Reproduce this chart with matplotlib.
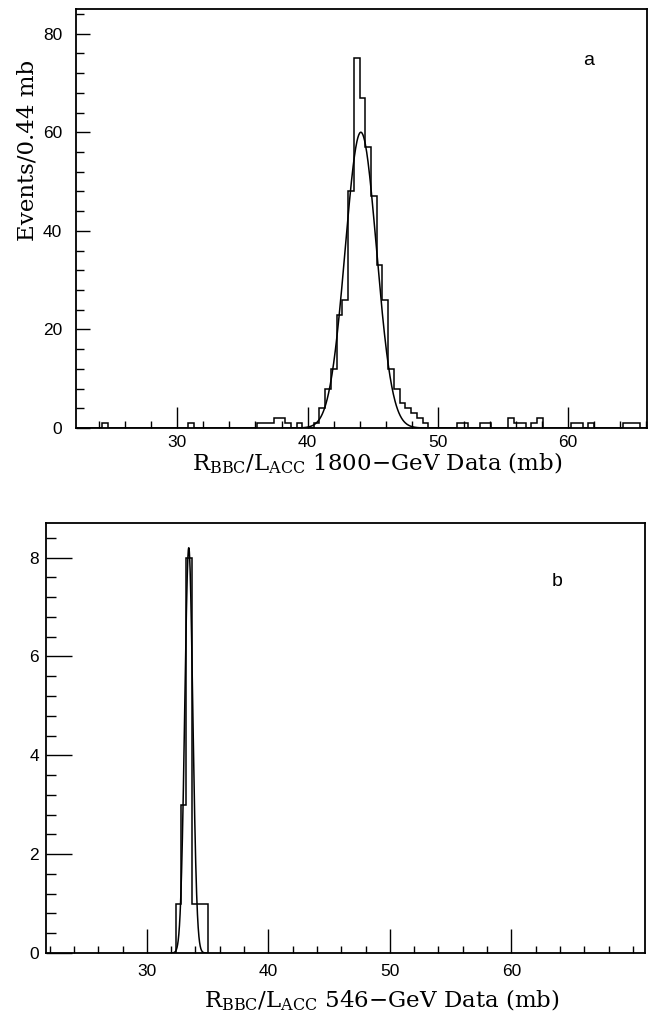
import matplotlib
matplotlib.use("Agg")
import matplotlib.pyplot as plt
import numpy as np
from matplotlib.ticker import MultipleLocator

plt.rcParams['mathtext.fontset'] = 'dejavuserif'

# histogram binning (mb)
BIN_START = 22.0
BIN_WIDTH = 0.44

# 1800-GeV data: events per 0.44 mb bin, bins from 22 mb upward
counts_1800 = [
    0, 0, 0, 0, 0, 1, 0, 0, 0, 0,
    0, 0, 0, 0, 0, 0, 0, 0, 0, 0,
    1, 0, 0, 0, 0, 0, 0, 0, 0, 0,
    0, 0, 1, 1, 1, 2, 2, 1, 0, 1,
    0, 0, 1, 4, 8, 12, 23, 26, 48, 75,
    67, 57, 47, 33, 26, 12, 8, 5, 4, 3,
    2, 1, 0, 0, 0, 0, 0, 1, 1, 0,
    0, 1, 1, 0, 0, 0, 2, 1, 1, 0,
    1, 2, 0, 0, 0, 0, 0, 1, 1, 0,
    1, 0, 0, 0, 0, 0, 1, 1, 1, 0,
]
# gaussian fit to the 1800-GeV peak
fit_1800_amp = 60.0
fit_1800_mean = 44.1
fit_1800_sigma = 1.2

# 546-GeV data
start_546 = 32.36
counts_546 = [1, 3, 8, 1, 1, 1]
fit_546_amp = 8.2
fit_546_mean = 33.45
fit_546_sigma = 0.33


def gauss(x, amp, mean, sigma):
    return amp * np.exp(-0.5 * ((x - mean) / sigma) ** 2)


def draw_hist(ax, start, counts):
    edges = start + BIN_WIDTH * np.arange(len(counts) + 1)
    ax.stairs(counts, edges, color='black', lw=1.1)


def style_axes(ax, xmaj, xmin, ymaj, ymin, xlen, ylen):
    ax.xaxis.set_major_locator(MultipleLocator(xmaj))
    ax.xaxis.set_minor_locator(MultipleLocator(xmin))
    ax.yaxis.set_major_locator(MultipleLocator(ymaj))
    ax.yaxis.set_minor_locator(MultipleLocator(ymin))
    ax.tick_params(axis='x', which='major', direction='in', length=xlen[0], width=1.0)
    ax.tick_params(axis='x', which='minor', direction='in', length=xlen[1], width=1.0)
    ax.tick_params(axis='y', which='major', direction='in', length=ylen[0], width=1.0)
    ax.tick_params(axis='y', which='minor', direction='in', length=ylen[1], width=1.0)
    ax.tick_params(labelsize=12.5)
    for lbl in ax.get_xticklabels() + ax.get_yticklabels():
        lbl.set_fontfamily('Liberation Sans')
    for s in ax.spines.values():
        s.set_linewidth(1.3)


fig = plt.figure(figsize=(6.5, 10.19), dpi=100)
H = 1019.0
W = 650.0

# panel a
ax1 = fig.add_axes([76 / W, (H - 428) / H, 571 / W, 419 / H])
draw_hist(ax1, BIN_START, counts_1800)
xs = np.linspace(38, 51, 400)
ax1.plot(xs, gauss(xs, fit_1800_amp, fit_1800_mean, fit_1800_sigma), color='black', lw=1.1)
ax1.set_xlim(22.2, 66.1)
ax1.set_ylim(0, 85)
style_axes(ax1, 10, 2, 20, 4, (15, 5), (10, 6))
ax1.tick_params(axis='y', pad=10)
ax1.tick_params(axis='x', pad=5)
ax1.set_xticks([30, 40, 50, 60])
ax1.set_yticks([0, 20, 40, 60, 80])
ax1.set_ylabel('Events/0.44 mb', fontsize=16.5, family='DejaVu Serif')
ax1.yaxis.set_label_coords(-0.0665, 0.663)
ax1.set_xlabel(r'R$_{\mathrm{BBC}}$/L$_{\mathrm{ACC}}$ 1800$-$GeV Data (mb)',
               fontsize=16.5, family='DejaVu Serif')
ax1.xaxis.set_label_coords(0.528, -0.055)
ax1.text(0.897, 0.878, 'a', transform=ax1.transAxes, fontsize=14,
         family='Liberation Sans', ha='center', va='center')

# panel b
ax2 = fig.add_axes([46 / W, (H - 953) / H, 599 / W, 430 / H])
draw_hist(ax2, start_546, counts_546)
xs2 = np.linspace(32.0, 35.0, 400)
ax2.plot(xs2, gauss(xs2, fit_546_amp, fit_546_mean, fit_546_sigma), color='black', lw=1.1)
ax2.set_xlim(21.7, 71.0)
ax2.set_ylim(0, 8.7)
style_axes(ax2, 10, 2, 2, 0.4, (17, 5), (19, 7))
ax2.tick_params(axis='y', pad=5)
ax2.tick_params(axis='x', pad=8)
ax2.set_xticks([30, 40, 50, 60])
ax2.set_xlabel(r'R$_{\mathrm{BBC}}$/L$_{\mathrm{ACC}}$ 546$-$GeV Data (mb)',
               fontsize=16.5, family='DejaVu Serif')
ax2.xaxis.set_label_coords(0.56, -0.08)
ax2.text(0.853, 0.863, 'b', transform=ax2.transAxes, fontsize=14,
         family='Liberation Sans', ha='center', va='center')

fig.savefig('out.png', dpi=100)
